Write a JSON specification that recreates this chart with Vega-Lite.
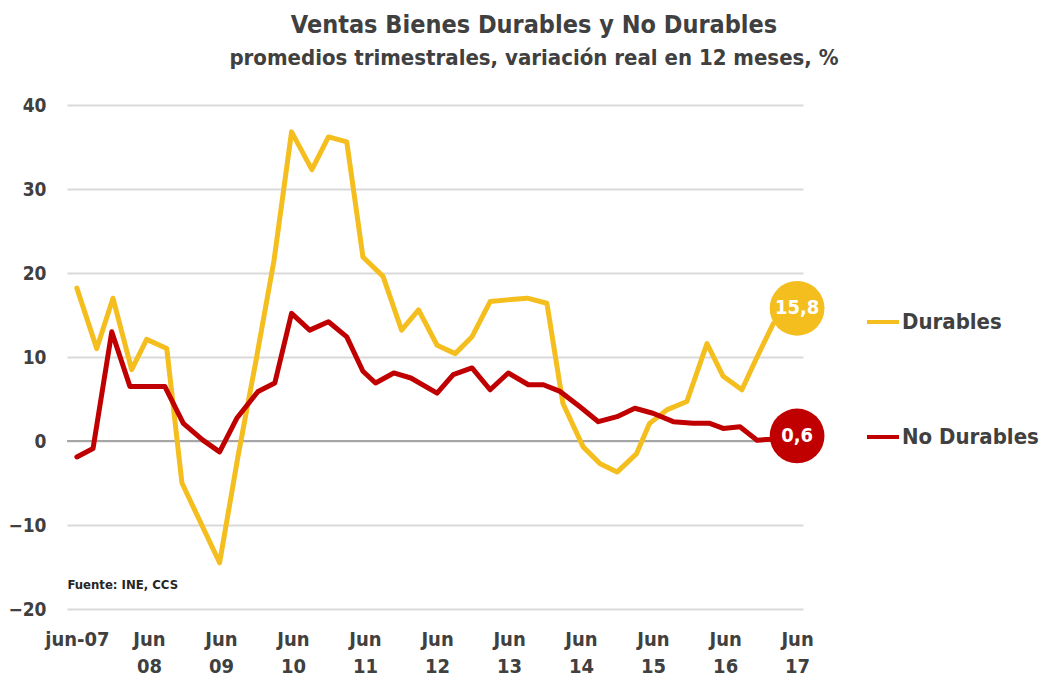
{
  "$schema": "https://vega.github.io/schema/vega-lite/v6.json",
  "width": 736,
  "height": 504,
  "autosize": {"type": "none"},
  "padding": {"left": 67, "top": 105, "right": 246, "bottom": 68},
  "background": "white",
  "title": {
    "text": "Ventas Bienes Durables y No Durables",
    "subtitle": "promedios trimestrales, variación real en 12 meses, %",
    "anchor": "middle",
    "dx": 99,
    "offset": 27,
    "font": "DejaVu Sans Condensed",
    "fontWeight": "bold",
    "fontSize": 25,
    "color": "#404040",
    "subtitleFont": "DejaVu Sans Condensed",
    "subtitleFontWeight": "bold",
    "subtitleFontSize": 22,
    "subtitleColor": "#404040",
    "subtitlePadding": 10
  },
  "config": {
    "view": {"stroke": null},
    "font": "DejaVu Sans Condensed",
    "axis": {
      "domain": false,
      "ticks": false,
      "labelFont": "DejaVu Sans Condensed",
      "labelFontWeight": "bold",
      "labelColor": "#404040",
      "gridColor": "#d9d9d9",
      "gridWidth": 2,
      "title": null
    },
    "legend": {
      "labelFont": "DejaVu Sans Condensed",
      "labelFontWeight": "bold"
    }
  },
  "datasets": {
    "series": [
      {"series": "Durables", "date": "2007-06-01", "value": 18.2},
      {"series": "Durables", "date": "2007-09-10", "value": 11.0},
      {"series": "Durables", "date": "2007-12-01", "value": 17.0},
      {"series": "Durables", "date": "2008-03-05", "value": 8.5},
      {"series": "Durables", "date": "2008-05-20", "value": 12.1},
      {"series": "Durables", "date": "2008-08-30", "value": 11.0},
      {"series": "Durables", "date": "2008-11-15", "value": -5.0},
      {"series": "Durables", "date": "2009-05-25", "value": -14.5},
      {"series": "Durables", "date": "2009-08-25", "value": -2.0},
      {"series": "Durables", "date": "2009-11-25", "value": 9.5},
      {"series": "Durables", "date": "2010-02-25", "value": 21.5},
      {"series": "Durables", "date": "2010-05-25", "value": 36.8},
      {"series": "Durables", "date": "2010-09-05", "value": 32.3},
      {"series": "Durables", "date": "2010-11-28", "value": 36.2},
      {"series": "Durables", "date": "2011-03-01", "value": 35.6},
      {"series": "Durables", "date": "2011-05-22", "value": 21.9},
      {"series": "Durables", "date": "2011-09-01", "value": 19.6},
      {"series": "Durables", "date": "2011-12-04", "value": 13.2},
      {"series": "Durables", "date": "2012-02-28", "value": 15.6},
      {"series": "Durables", "date": "2012-06-01", "value": 11.4},
      {"series": "Durables", "date": "2012-09-01", "value": 10.4},
      {"series": "Durables", "date": "2012-11-25", "value": 12.4},
      {"series": "Durables", "date": "2013-02-25", "value": 16.6},
      {"series": "Durables", "date": "2013-05-25", "value": 16.8},
      {"series": "Durables", "date": "2013-09-01", "value": 17.0},
      {"series": "Durables", "date": "2013-12-10", "value": 16.4},
      {"series": "Durables", "date": "2014-03-01", "value": 4.5},
      {"series": "Durables", "date": "2014-06-12", "value": -0.7},
      {"series": "Durables", "date": "2014-09-06", "value": -2.7},
      {"series": "Durables", "date": "2014-12-01", "value": -3.7},
      {"series": "Durables", "date": "2015-03-10", "value": -1.5},
      {"series": "Durables", "date": "2015-05-15", "value": 2.1},
      {"series": "Durables", "date": "2015-08-10", "value": 3.7},
      {"series": "Durables", "date": "2015-11-20", "value": 4.7},
      {"series": "Durables", "date": "2016-03-01", "value": 11.6},
      {"series": "Durables", "date": "2016-05-22", "value": 7.7},
      {"series": "Durables", "date": "2016-08-25", "value": 6.1},
      {"series": "Durables", "date": "2016-11-10", "value": 10.0},
      {"series": "Durables", "date": "2017-02-01", "value": 14.0},
      {"series": "Durables", "date": "2017-06-01", "value": 15.8},
      {"series": "No Durables", "date": "2007-06-01", "value": -1.9},
      {"series": "No Durables", "date": "2007-08-22", "value": -0.9},
      {"series": "No Durables", "date": "2007-11-25", "value": 13.0},
      {"series": "No Durables", "date": "2008-02-25", "value": 6.5},
      {"series": "No Durables", "date": "2008-08-20", "value": 6.5},
      {"series": "No Durables", "date": "2008-11-22", "value": 2.1},
      {"series": "No Durables", "date": "2009-03-01", "value": 0.1},
      {"series": "No Durables", "date": "2009-05-25", "value": -1.3},
      {"series": "No Durables", "date": "2009-08-20", "value": 2.7},
      {"series": "No Durables", "date": "2009-12-06", "value": 5.9},
      {"series": "No Durables", "date": "2010-03-01", "value": 6.9},
      {"series": "No Durables", "date": "2010-05-25", "value": 15.2},
      {"series": "No Durables", "date": "2010-08-25", "value": 13.2},
      {"series": "No Durables", "date": "2010-11-28", "value": 14.2},
      {"series": "No Durables", "date": "2011-03-01", "value": 12.4},
      {"series": "No Durables", "date": "2011-05-22", "value": 8.3},
      {"series": "No Durables", "date": "2011-07-25", "value": 6.9},
      {"series": "No Durables", "date": "2011-10-25", "value": 8.1},
      {"series": "No Durables", "date": "2012-01-20", "value": 7.5},
      {"series": "No Durables", "date": "2012-06-01", "value": 5.7},
      {"series": "No Durables", "date": "2012-08-22", "value": 7.9},
      {"series": "No Durables", "date": "2012-11-25", "value": 8.7},
      {"series": "No Durables", "date": "2013-02-25", "value": 6.1},
      {"series": "No Durables", "date": "2013-05-28", "value": 8.1},
      {"series": "No Durables", "date": "2013-09-07", "value": 6.7},
      {"series": "No Durables", "date": "2013-11-22", "value": 6.7},
      {"series": "No Durables", "date": "2014-02-15", "value": 5.9},
      {"series": "No Durables", "date": "2014-05-25", "value": 4.1},
      {"series": "No Durables", "date": "2014-08-28", "value": 2.3},
      {"series": "No Durables", "date": "2014-12-01", "value": 2.9},
      {"series": "No Durables", "date": "2015-03-01", "value": 3.9},
      {"series": "No Durables", "date": "2015-06-01", "value": 3.3},
      {"series": "No Durables", "date": "2015-09-12", "value": 2.3},
      {"series": "No Durables", "date": "2015-12-22", "value": 2.1},
      {"series": "No Durables", "date": "2016-03-15", "value": 2.1},
      {"series": "No Durables", "date": "2016-05-22", "value": 1.5},
      {"series": "No Durables", "date": "2016-08-15", "value": 1.7},
      {"series": "No Durables", "date": "2016-11-10", "value": 0.1},
      {"series": "No Durables", "date": "2017-01-15", "value": 0.2},
      {"series": "No Durables", "date": "2017-06-01", "value": 0.6}
    ],
    "ends": [
      {"series": "Durables", "date": "2017-06-01", "value": 15.8, "label": "15,8"},
      {"series": "No Durables", "date": "2017-06-01", "value": 0.6, "label": "0,6"}
    ],
    "source": [
      {"date": "2007-04-14", "value": -17.2, "text": "Fuente: INE, CCS"}
    ]
  },
  "layer": [
    {
      "data": {"values": [{"value": 0}]},
      "mark": {"type": "rule", "color": "#a6a6a6", "strokeWidth": 2},
      "encoding": {"y": {"field": "value", "type": "quantitative", "scale": {"domain": [-20, 40]}}}
    },
    {
      "data": {"name": "series"},
      "mark": {"type": "line", "strokeWidth": 5, "strokeJoin": "round", "strokeCap": "round"},
      "encoding": {
        "x": {
          "field": "date", "type": "temporal",
          "scale": {"domain": ["2007-04-12", "2017-07-01"]},
          "axis": {
            "grid": false,
            "values": [
              {"year": 2007, "month": 6, "date": 1},
              {"year": 2008, "month": 6, "date": 1},
              {"year": 2009, "month": 6, "date": 1},
              {"year": 2010, "month": 6, "date": 1},
              {"year": 2011, "month": 6, "date": 1},
              {"year": 2012, "month": 6, "date": 1},
              {"year": 2013, "month": 6, "date": 1},
              {"year": 2014, "month": 6, "date": 1},
              {"year": 2015, "month": 6, "date": 1},
              {"year": 2016, "month": 6, "date": 1},
              {"year": 2017, "month": 6, "date": 1}
            ],
            "labelExpr": "year(datum.value) == 2007 ? 'jun-07' : ['Jun', timeFormat(datum.value, '%y')]",
            "labelAlign": "center",
            "labelBaseline": "top",
            "labelPadding": 20,
            "labelLineHeight": 27,
            "labelFontSize": 20,
            "labelOverlap": false,
            "labelFlush": false
          }
        },
        "y": {
          "field": "value", "type": "quantitative",
          "scale": {"domain": [-20, 40]},
          "axis": {
            "values": [-20, -10, 0, 10, 20, 30, 40],
            "labelFontSize": 19,
            "labelPadding": 21
          }
        },
        "color": {
          "field": "series", "type": "nominal",
          "scale": {"domain": ["Durables", "No Durables"], "range": ["#F4BE1E", "#C00000"]},
          "legend": {
            "title": null,
            "orient": "none",
            "legendX": 798,
            "legendY": 199,
            "symbolType": "stroke",
            "symbolSize": 1024,
            "symbolStrokeWidth": 4,
            "labelFontSize": 22,
            "labelColor": "#404040",
            "labelOffset": 1,
            "rowPadding": 86
          }
        }
      }
    },
    {
      "data": {"name": "ends"},
      "mark": {"type": "point", "shape": "circle", "filled": true, "opacity": 1, "size": 3000},
      "encoding": {
        "x": {"field": "date", "type": "temporal"},
        "y": {"field": "value", "type": "quantitative"},
        "color": {"field": "series", "type": "nominal", "legend": null}
      }
    },
    {
      "data": {"name": "ends"},
      "mark": {"type": "text", "color": "white", "fontWeight": "bold", "fontSize": 20, "font": "DejaVu Sans Condensed", "align": "center", "baseline": "middle"},
      "encoding": {
        "x": {"field": "date", "type": "temporal"},
        "y": {"field": "value", "type": "quantitative"},
        "text": {"field": "label"}
      }
    },
    {
      "data": {"name": "source"},
      "mark": {"type": "text", "color": "#262626", "fontWeight": "bold", "fontSize": 13, "font": "DejaVu Sans Condensed", "align": "left", "baseline": "middle"},
      "encoding": {
        "x": {"field": "date", "type": "temporal"},
        "y": {"field": "value", "type": "quantitative"},
        "text": {"field": "text"}
      }
    }
  ]
}
